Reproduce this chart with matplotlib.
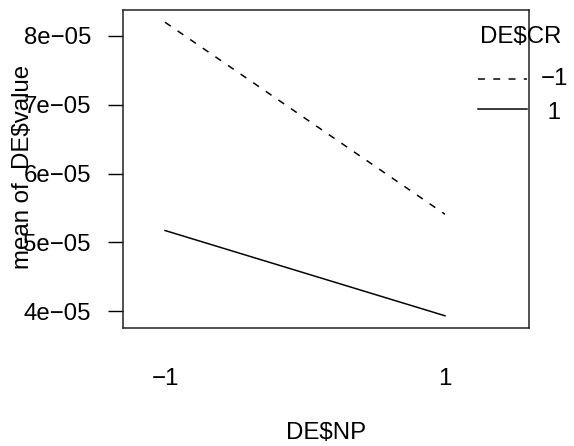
import matplotlib
matplotlib.use("Agg")
import matplotlib.pyplot as plt
from matplotlib.lines import Line2D

# ---- data ----
np_levels = ["\u22121", "1"]                 # x categories (DE$NP)
cr_labels = ["\u22121", " 1"]                # trace factor levels (DE$CR)
mean_cr_m1 = [8.20e-05, 5.41e-05]            # CR = -1 (dashed)
mean_cr_p1 = [5.174e-05, 3.935e-05]          # CR =  1 (solid)
y_ticks = [4e-05, 5e-05, 6e-05, 7e-05, 8e-05]
y_tick_labels = ["4e\u221205", "5e\u221205", "6e\u221205", "7e\u221205", "8e\u221205"]

plt.rcParams["font.family"] = ["Liberation Sans", "DejaVu Sans"]
plt.rcParams["lines.scale_dashes"] = False
FS = 17.3
W, H = 574, 446

fig = plt.figure(figsize=(W / 100, H / 100), dpi=100)
L, R, T, B = 123, 529, 10, 328
ax = fig.add_axes([L / W, 1 - B / H, (R - L) / W, (B - T) / H])

dash = (0, (5.0, 6.0))
lw = 1.08
xs = list(range(len(np_levels)))
ax.plot(xs, mean_cr_m1, color="black", lw=lw, linestyle=dash)
ax.plot(xs, mean_cr_p1, color="black", lw=lw, linestyle="-")

ax.set_xlim(-0.15, 1.3)
ax.set_ylim(3.7575e-05, 8.3775e-05)

ax.set_yticks(y_ticks)
ax.set_yticklabels(y_tick_labels, fontsize=FS)
ax.tick_params(axis="y", length=10.8, width=1.0, pad=12.3, direction="out")
ax.set_xticks(xs)
ax.set_xticklabels(np_levels, fontsize=FS)
ax.tick_params(axis="x", length=0, pad=29)

for s in ax.spines.values():
    s.set_linewidth(1.1)
    s.set_color("#222222")

# axis titles
fig.text(29 / W, 1 - 167 / H, "mean of  DE$value", rotation=90,
         rotation_mode="anchor", ha="center", va="baseline", fontsize=FS)
fig.text(326 / W, 6.7 / H, "DE$NP", ha="center", va="baseline", fontsize=FS)

# legend (drawn outside the box, as in R's interaction.plot)
fig.text(480 / W, 1 - 43.3 / H, "DE$CR", ha="left", va="baseline", fontsize=FS)
styles = [dash, "-"]
line_y = [79, 108.5]
text_base = [85, 119.3]
for lab, st, ly, tb in zip(cr_labels, styles, line_y, text_base):
    fig.add_artist(Line2D([478 / W, 527 / W], [1 - ly / H, 1 - ly / H],
                          transform=fig.transFigure, color="black", lw=lw,
                          linestyle=st))
    fig.text(541 / W, 1 - tb / H, lab, ha="left", va="baseline", fontsize=FS)

fig.savefig("out.png", dpi=100)
